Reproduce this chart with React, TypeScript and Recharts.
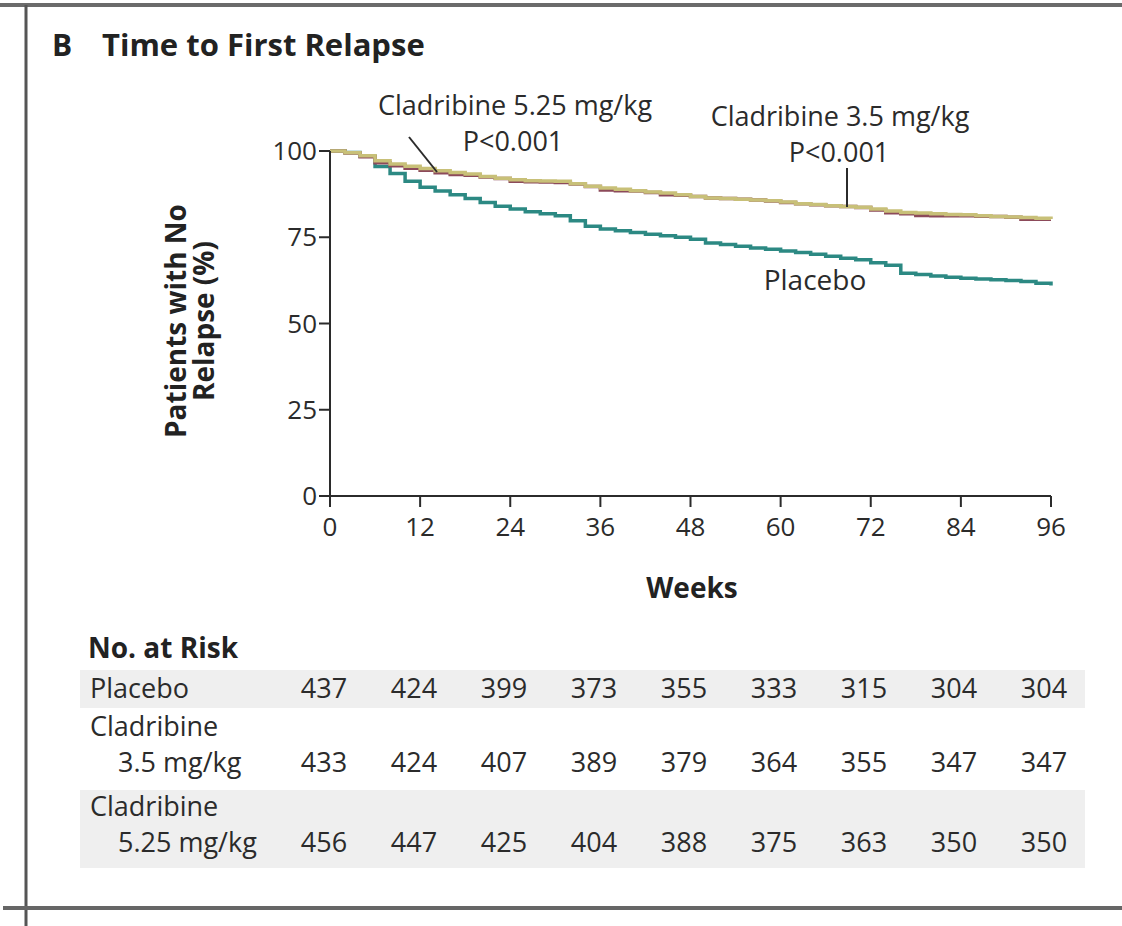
import { LineChart, Line, XAxis, YAxis } from "recharts";

// weeks sampled for the Kaplan-Meier curves
const weeks = [
  0, 2, 4, 6, 8, 10, 12, 14, 16, 18, 20, 22, 24, 26, 28, 30, 32, 34, 36, 38, 40, 42, 44, 46, 48,
  50, 52, 54, 56, 58, 60, 62, 64, 66, 68, 70, 72, 74, 76, 78, 80, 82, 84, 86, 88, 90, 92, 94, 96,
];

const placebo = [
  100, 99.6, 98.5, 95.5, 93.5, 91.2, 89.5, 88.4, 87.3, 86.2, 85.1, 84.0, 83.2, 82.4, 81.8, 81.2,
  79.8, 78.2, 77.4, 76.9, 76.4, 75.9, 75.4, 75.0, 74.4, 73.3, 72.9, 72.4, 71.9, 71.5, 71.0, 70.6,
  70.1, 69.5, 68.9, 68.5, 67.6, 66.9, 64.6, 64.2, 63.8, 63.4, 63.1, 62.9, 62.7, 62.5, 62.2, 61.7, 61.0,
];

const clad35 = [
  100, 99.5, 98.6, 97.2, 96.2, 95.6, 94.9, 94.3, 93.8, 93.3, 92.6, 92.1, 91.7, 91.4, 91.3, 91.2,
  90.5, 89.8, 89.3, 88.9, 88.5, 88.1, 87.8, 87.3, 86.8, 86.4, 86.2, 86.0, 85.8, 85.6, 85.2, 84.7,
  84.5, 84.1, 83.9, 83.7, 83.2, 82.6, 82.2, 82.0, 81.8, 81.6, 81.5, 81.2, 81.0, 80.9, 80.7, 80.5, 80.3,
];

const clad525 = [
  100, 99.4, 98.3, 96.6, 95.7, 95.0, 94.4, 93.7, 93.2, 93.0, 92.5, 92.0, 91.2, 91.1, 91.0, 90.9,
  90.4, 89.7, 88.7, 88.5, 88.4, 88.0, 87.3, 87.2, 86.8, 86.4, 86.2, 86.0, 85.8, 85.5, 85.1, 84.7,
  84.4, 84.1, 83.9, 83.6, 82.9, 82.1, 81.8, 81.3, 81.2, 81.2, 81.2, 81.1, 81.0, 80.8, 80.2, 80.2, 80.2,
];

const xTicks = [0, 12, 24, 36, 48, 60, 72, 84, 96];
const yTicks = [0, 25, 50, 75, 100];

// number at risk table
const riskPlacebo = [437, 424, 399, 373, 355, 333, 315, 304, 304];
const risk35 = [433, 424, 407, 389, 379, 364, 355, 347, 347];
const risk525 = [456, 447, 425, 404, 388, 375, 363, 350, 350];

const chartData = weeks.map((w, i) => ({
  week: w,
  placebo: placebo[i],
  c35: clad35[i],
  c525: clad525[i],
}));

const font = "'Open Sans', 'Noto Sans', sans-serif";
const ink = "#2b2b2b";

export default function App() {
  const colX = (i: number) => 324 + i * 90;

  return (
    <div
      style={{
        position: "absolute",
        left: 0,
        top: 0,
        width: 1122,
        height: 926,
        background: "#fff",
        overflow: "hidden",
        fontFamily: font,
      }}
    >
      <div style={{ position: "absolute", left: 0, top: 0 }}>
        <LineChart
          width={1122}
          height={570}
          data={chartData}
          margin={{ top: 151, right: 71, left: 260, bottom: 14 }}
        >
          <XAxis
            dataKey="week"
            type="number"
            domain={[0, 96]}
            ticks={xTicks}
            height={60}
            tickSize={11}
            tickMargin={11}
            stroke={ink}
            strokeWidth={2}
            tick={{ fill: ink, fontSize: 26, fontFamily: font }}
          />
          <YAxis
            type="number"
            domain={[0, 100]}
            ticks={yTicks}
            width={70}
            tickSize={11}
            tickMargin={2}
            stroke={ink}
            strokeWidth={2}
            tick={{ fill: ink, fontSize: 26, fontFamily: font }}
          />
          <Line
            type="stepAfter"
            dataKey="placebo"
            stroke="#2c8983"
            strokeWidth={3.5}
            dot={false}
            isAnimationActive={false}
          />
          <Line
            type="stepAfter"
            dataKey="c525"
            stroke="#8c4a5a"
            strokeWidth={3.5}
            dot={false}
            isAnimationActive={false}
          />
          <Line
            type="stepAfter"
            dataKey="c35"
            stroke="#c8c078"
            strokeWidth={3.5}
            dot={false}
            isAnimationActive={false}
          />
        </LineChart>
      </div>

      <svg
        width={1122}
        height={926}
        style={{ position: "absolute", left: 0, top: 0, pointerEvents: "none" }}
        fontFamily={font}
      >
        {/* page frame */}
        <line x1={0} y1={5} x2={1122} y2={5} stroke="#6b6b6b" strokeWidth={4} />
        <line x1={26} y1={5} x2={26} y2={926} stroke="#555" strokeWidth={3} />
        <line x1={3} y1={908} x2={1122} y2={908} stroke="#666" strokeWidth={4} />

        {/* title */}
        <text x={52} y={56} fontSize={30} fontWeight={700} fill="#222">B</text>
        <text x={102} y={56} fontSize={31} fontWeight={700} fill="#222">Time to First Relapse</text>

        {/* annotations */}
        <text x={515} y={115} fontSize={27} fill={ink} textAnchor="middle">Cladribine 5.25 mg/kg</text>
        <text x={513} y={151} fontSize={27} fill={ink} textAnchor="middle">P&lt;0.001</text>
        <line x1={409} y1={137} x2={437} y2={172} stroke={ink} strokeWidth={2} />

        <text x={840} y={126} fontSize={27} fill={ink} textAnchor="middle">Cladribine 3.5 mg/kg</text>
        <text x={839} y={162} fontSize={27} fill={ink} textAnchor="middle">P&lt;0.001</text>
        <line x1={847} y1={168} x2={847} y2={207} stroke={ink} strokeWidth={2} />

        <text x={815} y={290} fontSize={28} fill={ink} textAnchor="middle">Placebo</text>

        {/* axis titles */}
        <text
          transform="translate(186,321) rotate(-90)"
          fontSize={28}
          fontWeight={700}
          fill="#222"
          textAnchor="middle"
        >
          Patients with No
        </text>
        <text
          transform="translate(214,321) rotate(-90)"
          fontSize={28}
          fontWeight={700}
          fill="#222"
          textAnchor="middle"
        >
          Relapse (%)
        </text>
        <text x={692} y={598} fontSize={28} fontWeight={700} fill="#222" textAnchor="middle">
          Weeks
        </text>

        {/* number at risk */}
        <text x={88} y={658} fontSize={28} fontWeight={700} fill="#222">No. at Risk</text>
        <rect x={80} y={670} width={1005} height={38} fill="#efefef" />
        <rect x={80} y={790} width={1005} height={78} fill="#efefef" />

        <text x={90} y={698} fontSize={27} fill={ink}>Placebo</text>
        <text x={90} y={736} fontSize={27} fill={ink}>Cladribine</text>
        <text x={118} y={772} fontSize={27} fill={ink}>3.5 mg/kg</text>
        <text x={90} y={816} fontSize={27} fill={ink}>Cladribine</text>
        <text x={118} y={852} fontSize={27} fill={ink}>5.25 mg/kg</text>

        {riskPlacebo.map((n, i) => (
          <text key={"p" + i} x={colX(i)} y={698} fontSize={27} fill={ink} textAnchor="middle">
            {n}
          </text>
        ))}
        {risk35.map((n, i) => (
          <text key={"a" + i} x={colX(i)} y={772} fontSize={27} fill={ink} textAnchor="middle">
            {n}
          </text>
        ))}
        {risk525.map((n, i) => (
          <text key={"b" + i} x={colX(i)} y={852} fontSize={27} fill={ink} textAnchor="middle">
            {n}
          </text>
        ))}
      </svg>
    </div>
  );
}
